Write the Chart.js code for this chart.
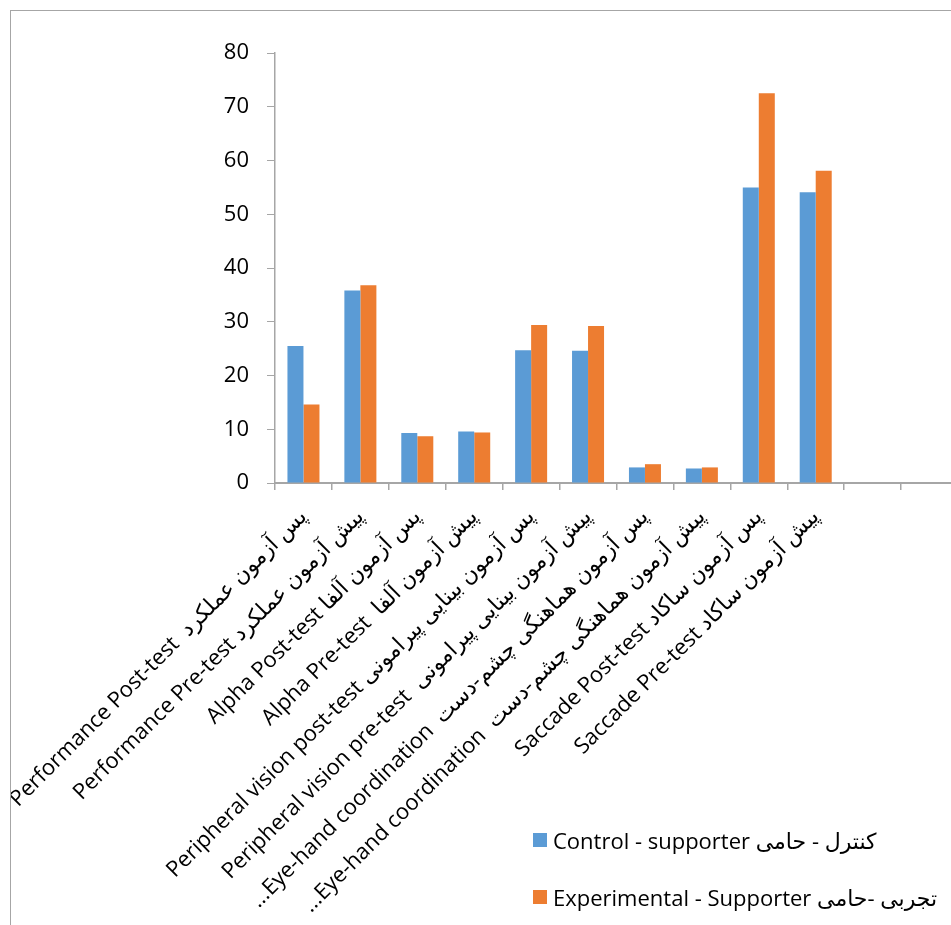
<!DOCTYPE html>
<html>
<head>
<meta charset="utf-8">
<script src="https://cdn.jsdelivr.net/npm/chart.js@4.4.0/dist/chart.umd.min.js"></script>
<style>
  body { margin: 0; background: #fff; overflow: hidden; }
  #frame { position: absolute; left: 10px; top: 10px; width: 960px; height: 930px;
           border-left: 1px solid #A6A6A6; border-top: 1px solid #A6A6A6; }
  #chart { position: absolute; left: 0; top: 0; }
  #legend { position: absolute; left: 522px; top: 815px; font-family: 'Open Sans', 'DejaVu Sans', sans-serif;
            font-size: 22px; color: #000; }
  .item { display: flex; align-items: center; height: 28px; margin-bottom: 29px; white-space: nowrap; }
  .box { width: 14px; height: 14px; margin-right: 6px; }
</style>
</head>
<body>
<div id="frame">
  <canvas id="chart" width="960" height="914"></canvas>
  <div id="legend"></div>
</div>
<script>
// categories (last two are empty slots in the original sheet)
var categories = [
  'Performance Post-test  پس آزمون عملکرد',
  'Performance Pre-test پیش آزمون عملکرد',
  'Alpha Post-test پس آزمون آلفا',
  'Alpha Pre-test  پیش آزمون آلفا',
  'Peripheral vision post-test پس آزمون بینایی پیرامونی',
  'Peripheral vision pre-test  پیش آزمون بینایی پیرامونی',
  '...Eye-hand coordination  پس آزمون هماهنگی چشم-دست',
  '...Eye-hand coordination  پیش آزمون هماهنگی چشم-دست',
  'Saccade Post-test پس آزمون ساکاد',
  'Saccade Pre-test پیش آزمون ساکاد',
  '',
  ''
];

var controlValues = [25.5, 35.8, 9.3, 9.6, 24.7, 24.6, 2.9, 2.7, 55.0, 54.1, null, null];
var experimentalValues = [14.6, 36.8, 8.7, 9.4, 29.4, 29.2, 3.5, 2.9, 72.5, 58.1, null, null];

var seriesNames = ['Control - supporter کنترل - حامی', 'Experimental - Supporter تجربی -حامی'];
var seriesColors = ['#5B9BD5', '#ED7D31'];

var yMin = 0, yMax = 80, yStep = 10;

var fontFamily = "'Open Sans', 'DejaVu Sans', sans-serif";
var axisGray = '#A6A6A6';

var ctx = document.getElementById('chart').getContext('2d');
var chart = new Chart(ctx, {
  type: 'bar',
  data: {
    labels: categories,
    datasets: [{
      label: seriesNames[0],
      data: controlValues,
      backgroundColor: seriesColors[0]
    },
    {
      label: seriesNames[1],
      data: experimentalValues,
      backgroundColor: seriesColors[1]
    }]
  },
  options: {
    responsive: false,
    animation: false,
    devicePixelRatio: 1,
    categoryPercentage: 0.5625,
    barPercentage: 1,
    layout: { padding: { top: 42, right: 13, left: 0, bottom: 0 } },
    plugins: {
      legend: { display: false },
      tooltip: { enabled: false }
    },
    scales: {
      x: {
        grid: { offset: true, drawOnChartArea: false, color: axisGray, tickLength: 7, lineWidth: 1.5 },
        border: { color: axisGray, width: 2 },
        ticks: {
          minRotation: 45, maxRotation: 45, autoSkip: false,
          color: '#000', padding: 14,
          font: { family: fontFamily, size: 22 }
        },
        afterFit: function(scale) {
          scale.height = 442;
          scale.paddingLeft = 0;
          scale.paddingRight = 0;
        }
      },
      y: {
        min: yMin, max: yMax,
        ticks: {
          stepSize: yStep, color: '#000', padding: 18,
          font: { family: fontFamily, size: 22 }
        },
        grid: { drawOnChartArea: false, color: axisGray, tickLength: 8 },
        border: { color: axisGray, width: 1.5 },
        afterFit: function(scale) {
          scale.width = 264;
        }
      }
    }
  }
});

// legend drawn as html, stacked like the original
var legend = document.getElementById('legend');
chart.data.datasets.forEach(function(ds) {
  var item = document.createElement('div');
  item.className = 'item';
  var box = document.createElement('span');
  box.className = 'box';
  box.style.background = ds.backgroundColor;
  var txt = document.createElement('span');
  txt.textContent = ds.label;
  item.appendChild(box);
  item.appendChild(txt);
  legend.appendChild(item);
});
</script>
</body>
</html>
